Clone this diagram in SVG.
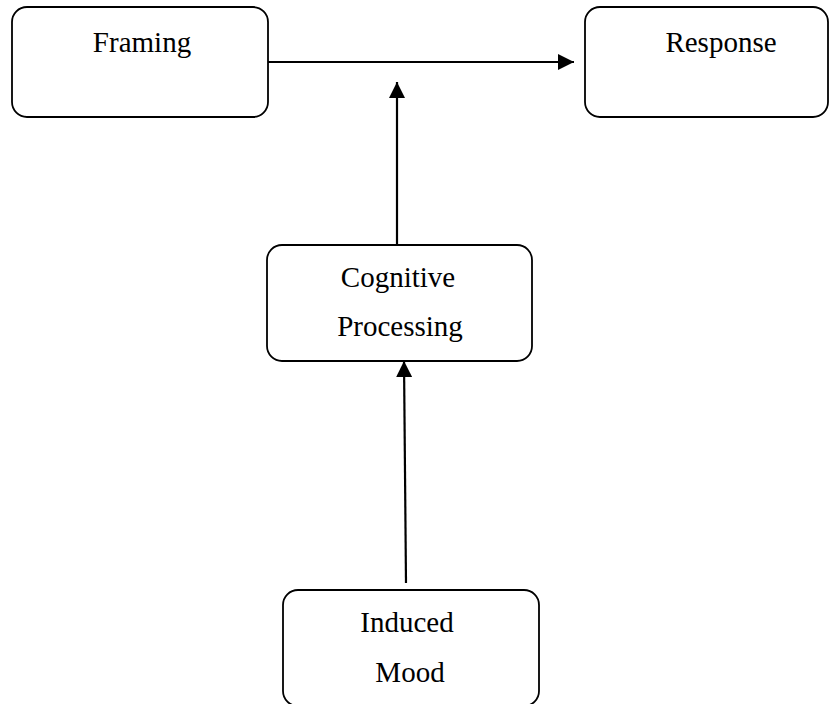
<svg xmlns="http://www.w3.org/2000/svg" width="832" height="704" viewBox="0 0 832 704">
<style>
.box{fill:#fff;stroke:#000;stroke-width:1.8}
.lbl{font-family:"Liberation Serif","Times New Roman",serif;font-size:29px;fill:#000;text-anchor:middle}
.con{stroke:#000;stroke-width:2.2;fill:none}
</style>
<defs>
<marker id="ah" markerWidth="16" markerHeight="16" refX="16" refY="8" orient="auto" markerUnits="userSpaceOnUse">
<path d="M0,0 L16,8 L0,16 Z" fill="#000"/>
</marker>
</defs>
<rect width="832" height="704" fill="#fff"/>
<g id="framing">
<rect class="box" x="12" y="7" width="256" height="110" rx="15"/>
<text class="lbl" x="142" y="52">Framing</text>
</g>
<g id="response">
<rect class="box" x="585" y="7" width="243" height="110" rx="15"/>
<text class="lbl" x="721" y="52">Response</text>
</g>
<g id="cognitive">
<rect class="box" x="267" y="245" width="265" height="116" rx="15"/>
<text class="lbl" x="398" y="287">Cognitive</text>
<text class="lbl" x="400" y="336">Processing</text>
</g>
<g id="mood">
<rect class="box" x="283" y="590" width="256" height="116" rx="15"/>
<text class="lbl" x="407" y="632">Induced</text>
<text class="lbl" x="410" y="682">Mood</text>
</g>
<g id="connectors">
<line class="con" x1="268" y1="62" x2="574" y2="62" marker-end="url(#ah)"/>
<line class="con" x1="397" y1="245" x2="397" y2="82" marker-end="url(#ah)"/>
<line class="con" x1="406" y1="583" x2="404" y2="361" marker-end="url(#ah)"/>
</g>
</svg>
